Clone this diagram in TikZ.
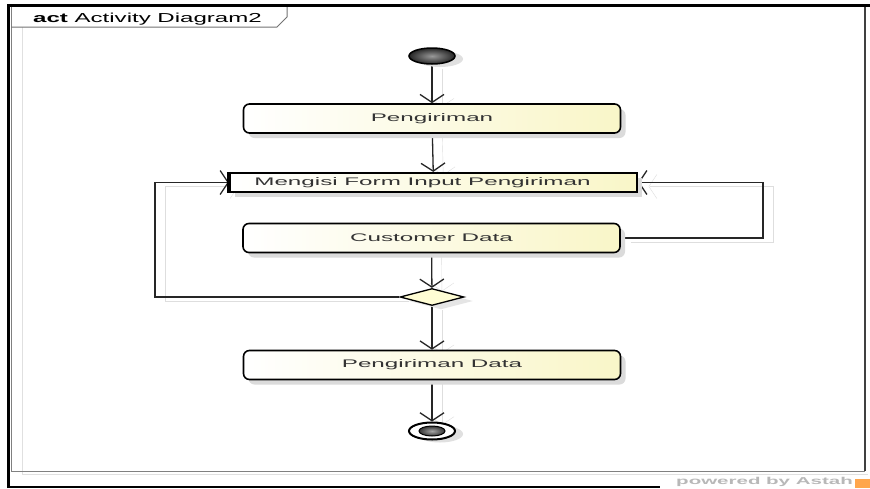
\documentclass[tikz,border=0pt]{standalone}
\usepackage{fontspec}
\setmainfont{Liberation Sans}
\usetikzlibrary{arrows.meta,shadows,shapes.geometric,backgrounds}
\definecolor{actyellow}{RGB}{249,246,200}
\definecolor{decyellow}{RGB}{255,253,212}
% horizontally widened label text
\newcommand{\wide}[2][2.2]{\scalebox{#1}[1]{#2}}
\begin{document}
\begin{tikzpicture}[x=1pt,y=-1pt,
  lbl/.style={font=\fontsize{11}{13}\selectfont, text=black!80},
  boxshadow/.style={drop shadow={shadow xshift=5pt, shadow yshift=-5pt, fill=black!14, opacity=1}},
  act/.style={lbl, draw=black, line width=1.6pt, rounded corners=6pt,
    minimum width=377pt, minimum height=29pt, inner sep=0pt,
    left color=white, right color=actyellow, boxshadow},
  form/.style={lbl, draw=black, line width=2.2pt, minimum width=407pt,
    minimum height=19pt, inner sep=0pt, left color=white, right color=actyellow, boxshadow},
  dec/.style={diamond, minimum width=64pt, minimum height=17pt, inner sep=0pt,
    draw=black, line width=1.3pt, fill=decyellow,
    drop shadow={shadow xshift=9pt, shadow yshift=-4pt, fill=black!10, opacity=1}},
  startnode/.style={ellipse, minimum width=46pt, minimum height=16pt, inner sep=0pt,
    draw=black, line width=1.5pt, inner color=black!40, outer color=black!85,
    drop shadow={shadow xshift=8pt, shadow yshift=-3pt, fill=black!12, opacity=1}},
  endnode/.style={ellipse, minimum width=46pt, minimum height=17pt, inner sep=0pt,
    draw=black, line width=2pt, fill=white,
    drop shadow={shadow xshift=8pt, shadow yshift=-3pt, fill=black!12, opacity=1}},
  endcore/.style={ellipse, minimum width=26pt, minimum height=10pt, inner sep=0pt,
    draw=black, line width=1pt, inner color=black!35, outer color=black!80},
  flow/.style={line width=1.3pt, draw=black!85,
    -{Straight Barb[length=8pt,width=24pt]},
    preaction={draw=black!13, transform canvas={shift={(10pt,-4pt)}}}}
]
\useasboundingbox (0,0) rectangle (870,488);
\begin{pgfonlayer}{background}
  \fill[white] (0,0) rectangle (870,488);
\end{pgfonlayer}

% diagram frame and its name tab
\draw[black!12, line width=1pt] (22,27) -- (22,474) -- (868,474);
\draw[black!50, line width=1pt] (11,6) -- (11,471) -- (865,471);
\draw[black!75, line width=2pt] (865,6) -- (865,471);
\draw[black!55, line width=1pt] (11,27) -- (277,27) -- (287,17) -- (287,6);
\node[anchor=base west, font=\fontsize{13}{15}\selectfont, inner sep=0pt] (title) at (33,22)
  {\scalebox{1.85}[1]{\textbf{act} Activity Diagram2}};

% outer window edge
\draw[black, line width=3pt] (8,488) -- (8,5) -- (870,5);
\draw[black, line width=1.5pt] (8,487) -- (660,487);

% activity nodes
\node[startnode] (start) at (432,56) {};
\node[act] (p1) at (432,118.5) {\wide{Pengiriman}};
\node[form] (form) at (433.5,182.5) {\wide{Mengisi Form Input Pengiriman}\hspace*{22pt}};
\draw[line width=3.5pt] (form.north west) -- (form.south west);
\node[act] (cd) at (431.5,238) {\wide{Customer Data}};
\node[dec] (dec) at (432,297) {};
\node[act] (pd) at (432,365) {\wide{Pengiriman Data}};
\node[endnode] (end) at (432,431) {};
\node[endcore] (endc) at (end.center) {};

% loop corners
\coordinate (lc) at (155,182.5);
\coordinate (rc) at (763,182.5);

% control flows
\begin{pgfonlayer}{background}
  \draw[flow] (start) -- (p1);
  \draw[flow] (p1) -- (form);
  \draw[flow] (cd) -- (dec);
  \draw[flow] (dec) -- (pd);
  \draw[flow] (pd) -- (end);
  \draw[flow] (dec.west) -| (lc) -- (form.west);
  \draw[flow] (cd.east) -| (rc) -- (form.east);
\end{pgfonlayer}

% footer
\node[anchor=base east, font=\fontsize{10}{12}\selectfont\bfseries, text=black!28, inner sep=0pt]
  (pw) at (853,484.5) {\scalebox{2.05}[1]{powered by Astah}};
\fill[orange!70] (855,479) rectangle (870,488);
\end{tikzpicture}
\end{document}
